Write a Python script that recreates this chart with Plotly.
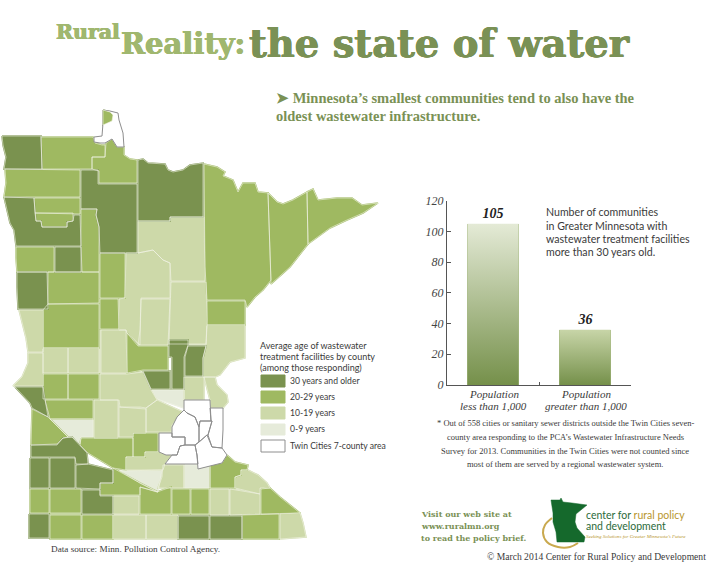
"""
Rural Reality: the state of water - county map plus bar chart.
"""
import plotly.graph_objects as go

# Bar chart data
POPULATION_GROUPS = ["Population less than 1,000", "Population greater than 1,000"]
COMMUNITY_COUNTS = [105, 36]
Y_TICKS = [0, 20, 40, 60, 80, 100, 120]

# Palette
DARK = "#7a924f"
MEDIUM = "#9fb961"
LIGHT = "#cdd9a9"
PALE = "#e6ebda"
BORDER = "#f1f4e6"
METRO_LINE = "#8e8e8e"
TITLE_DARK = "#7a9155"
TITLE_LIGHT = "#a0b76f"
INK = "#3a3a3a"

# County boundaries, in map units (same scale as the page overlay)
COUNTY_OUTLINES = {
    "Kittson": [(2, 136), (41, 136), (42, 169), (4, 169), (6, 157), (3, 145)],
    "Roseau": [(41, 137), (93, 137), (95, 143), (102, 145), (105, 145), (105, 157), (92, 157), (92, 169), (42, 169)],
    "LakeWoods": [(105, 157), (92, 157), (92, 169), (99, 171), (99, 183), (137, 183), (137, 160), (130, 159),
                  (124, 155), (124, 147), (117, 147), (112, 139), (106, 143)],
    "AnglePiece": [(103, 110), (110, 112), (113, 115), (112, 121), (103, 125)],
    "Koochiching": [(138, 160), (143, 159), (148, 163), (165, 164), (168, 170), (173, 172), (183, 170), (190, 165),
                    (203, 163), (203, 217), (170, 217), (170, 221), (138, 221)],
    "Beltrami": [(81, 170), (98, 170), (98, 184), (137, 184), (137, 253), (100, 253), (99, 227), (96, 215), (97, 209),
                 (81, 209)],
    "Marshall": [(5, 169), (80, 170), (80, 197), (4, 197), (6, 183)],
    "Pennington": [(34, 198), (80, 198), (80, 214), (35, 213)],
    "RedLake": [(35, 213), (73, 213), (73, 221), (67, 222), (67, 227), (42, 227), (41, 221), (36, 221)],
    "Polk": [(4, 197), (34, 198), (36, 221), (41, 221), (42, 227), (67, 227), (67, 222), (73, 221), (74, 215), (80, 215),
             (81, 246), (16, 246), (14, 230), (10, 223), (7, 210)],
    "Clearwater": [(81, 209), (97, 209), (96, 215), (99, 227), (99, 272), (82, 272), (81, 246)],
    "Norman": [(16, 247), (54, 247), (54, 272), (17, 272), (16, 258)],
    "Mahnomen": [(55, 247), (81, 247), (81, 272), (55, 272)],
    "Clay": [(17, 272), (47, 272), (48, 309), (18, 309), (17, 287)],
    "Becker": [(48, 272), (99, 272), (99, 303), (48, 304)],
    "Hubbard": [(100, 253), (125, 253), (125, 298), (100, 298)],
    "Cass": [(126, 253), (138, 253), (153, 250), (163, 260), (170, 263), (170, 298), (141, 298), (140, 345), (127, 333),
             (126, 330), (119, 330), (119, 299), (125, 298)],
    "Aitkin": [(141, 299), (170, 299), (168, 345), (138, 345), (140, 330)],
    "Itasca": [(138, 221), (170, 221), (170, 217), (204, 217), (205, 281), (171, 281), (170, 263), (163, 260),
               (153, 250), (138, 253)],
    "Carlton": [(171, 282), (206, 282), (207, 320), (206, 344), (169, 344), (170, 298)],
    "Duluth": [(207, 301), (245, 301), (245, 325), (207, 325)],
    "StLouis": [(204, 164), (217, 167), (225, 172), (223, 176), (233, 180), (238, 192), (243, 183), (255, 183),
                (258, 192), (268, 193), (271, 280), (263, 290), (255, 297), (247, 307), (245, 300), (207, 300),
                (205, 267)],
    "Lake": [(268, 193), (277, 202), (283, 204), (293, 200), (307, 192), (308, 244), (290, 267), (271, 284)],
    "Cook": [(307, 192), (313, 189), (318, 200), (337, 198), (352, 198), (362, 205), (378, 203), (363, 213), (347, 220),
             (330, 228), (308, 244)],
    "Pine": [(207, 325), (245, 325), (245, 358), (230, 362), (220, 375), (215, 377), (203, 377), (203, 358), (206, 346)],
    "Chisago": [(204, 377), (215, 377), (217, 385), (227, 395), (228, 402), (223, 408), (210, 408), (210, 400)],
    "Isanti": [(184, 377), (204, 377), (204, 400), (184, 400)],
    "MilleLacs": [(169, 340), (188, 340), (188, 345), (184, 357), (184, 389), (172, 389), (172, 357), (169, 357)],
    "Kanabec": [(188, 346), (206, 346), (203, 358), (203, 376), (185, 376), (185, 357)],
    "CrowWing": [(127, 333), (138, 346), (168, 346), (168, 370), (143, 370), (127, 373)],
    "Morrison": [(143, 371), (170, 371), (170, 389), (151, 389)],
    "Todd": [(101, 330), (126, 330), (127, 373), (101, 373)],
    "Wadena": [(100, 299), (118, 299), (119, 329), (100, 329)],
    "OtterTail": [(43, 310), (48, 304), (99, 304), (99, 348), (43, 348)],
    "Wilkin": [(19, 310), (43, 310), (43, 352), (28, 352), (26, 338)],
    "Grant": [(43, 348), (68, 348), (68, 373), (43, 373)],
    "Douglas": [(68, 348), (99, 348), (99, 373), (68, 373)],
    "Traverse": [(28, 353), (43, 353), (43, 386), (13, 386), (22, 377), (28, 363)],
    "BigStone": [(15, 387), (43, 387), (48, 417), (32, 408), (30, 403)],
    "Stevens": [(43, 374), (68, 374), (68, 399), (43, 399)],
    "Pope": [(68, 374), (99, 374), (99, 399), (68, 399)],
    "Stearns": [(100, 374), (127, 374), (143, 372), (151, 390), (157, 400), (146, 408), (140, 407), (120, 407),
                (119, 400), (100, 400)],
    "Swift": [(45, 400), (93, 400), (93, 419), (50, 419)],
    "Kandiyohi": [(94, 400), (118, 400), (118, 438), (94, 438)],
    "Chippewa": [(50, 419), (93, 419), (93, 437), (81, 437), (80, 444), (72, 437), (68, 437)],
    "Meeker": [(119, 407), (146, 409), (146, 433), (133, 433), (133, 437), (119, 437)],
    "Wright": [(146, 408), (157, 400), (183, 412), (172, 425), (171, 432), (146, 432)],
    "Sherburne": [(152, 390), (184, 390), (184, 408), (157, 399)],
    "McLeod": [(133, 433), (158, 433), (158, 452), (145, 452), (145, 457), (133, 457)],
    "Renville": [(81, 438), (133, 438), (133, 457), (126, 457), (126, 470), (113, 468), (88, 453), (80, 445)],
    "Sibley": [(126, 457), (145, 457), (145, 452), (158, 452), (165, 454), (172, 455), (165, 464), (163, 470),
               (126, 470)],
    "Nicollet": [(120, 471), (162, 470), (158, 492), (140, 483)],
    "LeSueur": [(163, 465), (184, 465), (184, 488), (158, 488), (162, 477)],
    "Rice": [(184, 465), (210, 465), (210, 488), (184, 488)],
    "Goodhue": [(227, 455), (235, 462), (248, 465), (247, 470), (241, 470), (241, 475), (235, 477), (235, 488),
                (210, 488), (210, 465), (222, 463)],
    "Wabasha": [(241, 470), (248, 470), (258, 475), (267, 483), (270, 488), (260, 488), (260, 494), (235, 488),
                (235, 477), (241, 475)],
    "LacQuiParle": [(32, 409), (48, 417), (68, 437), (63, 438), (57, 444), (31, 445)],
    "YellowMedicine": [(31, 445), (57, 445), (63, 438), (72, 437), (87, 453), (88, 464), (76, 464), (75, 457), (31, 457)],
    "Lincoln": [(30, 458), (49, 458), (49, 488), (30, 488)],
    "Lyon": [(50, 458), (75, 458), (75, 488), (50, 488)],
    "Redwood": [(76, 465), (88, 464), (113, 470), (113, 483), (100, 483), (100, 489), (76, 488)],
    "Brown": [(113, 468), (140, 483), (158, 492), (140, 487), (140, 495), (100, 495), (100, 483), (113, 483)],
    "Pipestone": [(30, 489), (49, 489), (49, 513), (30, 513)],
    "Murray": [(50, 489), (81, 489), (81, 513), (50, 513)],
    "Cottonwood": [(82, 490), (100, 490), (100, 496), (113, 496), (113, 514), (82, 514)],
    "Watonwan": [(113, 496), (139, 496), (139, 514), (113, 514)],
    "BlueEarth": [(140, 487), (157, 492), (171, 487), (171, 514), (140, 514)],
    "Waseca": [(172, 489), (190, 489), (190, 514), (172, 514)],
    "Steele": [(191, 489), (209, 489), (209, 514), (191, 514)],
    "Dodge": [(210, 489), (229, 489), (229, 515), (210, 515)],
    "Olmsted": [(230, 489), (260, 494), (260, 514), (230, 515)],
    "Winona": [(261, 489), (270, 488), (280, 497), (300, 513), (261, 514)],
    "Rock": [(29, 514), (49, 514), (49, 538), (29, 538)],
    "Nobles": [(50, 515), (81, 515), (81, 539), (50, 539)],
    "Jackson": [(82, 515), (113, 515), (113, 539), (82, 539)],
    "Martin": [(113, 515), (146, 515), (146, 539), (113, 539)],
    "Faribault": [(146, 515), (178, 515), (178, 539), (146, 539)],
    "Freeborn": [(178, 516), (209, 516), (209, 539), (178, 539)],
    "Mower": [(210, 516), (242, 516), (242, 539), (210, 539)],
    "Fillmore": [(242, 515), (279, 514), (279, 539), (242, 539)],
    "Houston": [(280, 514), (300, 513), (303, 523), (306, 537), (280, 539)],
}

METRO_OUTLINES = {
    "Anoka": [(184, 400), (210, 400), (211, 421), (200, 421), (199, 427), (195, 417), (187, 413), (184, 410)],
    "Washington": [(210, 408), (223, 408), (223, 430), (222, 448), (212, 447), (208, 435), (212, 421), (211, 421)],
    "Ramsey": [(200, 421), (212, 421), (208, 435), (207, 435), (199, 442), (199, 427)],
    "Hennepin": [(184, 410), (187, 413), (195, 417), (199, 427), (199, 442), (195, 445), (185, 445), (185, 437),
                 (172, 437), (172, 427), (177, 417)],
    "Carver": [(159, 433), (172, 433), (172, 437), (185, 437), (185, 445), (180, 446), (177, 455), (166, 455),
               (159, 452)],
    "Scott": [(180, 446), (185, 445), (195, 445), (197, 455), (198, 464), (165, 464), (172, 455), (177, 455)],
    "Dakota": [(207, 435), (212, 447), (222, 448), (227, 455), (222, 463), (213, 465), (198, 469), (197, 455),
               (195, 445), (199, 442)],
    "Angle": [(103, 110), (110, 111), (118, 113), (119, 120), (123, 133), (124, 147), (117, 147), (112, 139),
              (105, 143), (100, 143), (94, 142), (94, 137), (102, 136), (103, 123)],
}

# Age class of each county
COUNTIES_30_PLUS = ["Kittson", "Koochiching", "Beltrami", "Polk", "Mahnomen", "Clay", "Morrison", "MilleLacs",
                    "Kanabec", "BigStone", "YellowMedicine", "Lincoln", "Lyon", "Redwood", "Cottonwood", "Rock",
                    "Freeborn", "Mower"]
COUNTIES_20_29 = ["Roseau", "LakeWoods", "AnglePiece", "Marshall", "Pennington", "RedLake", "Clearwater", "Norman",
                  "Becker", "Hubbard", "Duluth", "StLouis", "Lake", "Cook", "CrowWing", "Wadena", "OtterTail",
                  "Stevens", "Pope", "Swift", "McLeod", "Renville", "Goodhue", "LacQuiParle", "Brown", "Pipestone",
                  "Murray", "BlueEarth", "Waseca", "Steele", "Winona", "Nobles", "Jackson", "Fillmore"]
COUNTIES_10_19 = ["Cass", "Aitkin", "Itasca", "Carlton", "Pine", "Chisago", "Isanti", "Todd", "Wilkin", "Grant",
                  "Douglas", "Traverse", "Stearns", "Kandiyohi", "Meeker", "Wright", "Sibley", "LeSueur", "Wabasha",
                  "Watonwan", "Dodge", "Olmsted", "Martin", "Faribault", "Houston"]
COUNTIES_0_9 = ["Chippewa", "Sherburne", "Nicollet", "Rice"]

# Painted palest first so the darker counties keep their full shape
AGE_CLASSES = [
    ("0-9 years", COUNTIES_0_9, PALE),
    ("10-19 years", COUNTIES_10_19, LIGHT),
    ("20-29 years", COUNTIES_20_29, MEDIUM),
    ("30 years and older", COUNTIES_30_PLUS, DARK),
]

LOGO_STATE = [(551, 500), (560, 500), (561, 498), (563, 502), (572, 503), (587, 505), (576, 514), (575, 522), (577, 528),
              (585, 537), (584, 542), (557, 542), (556, 532), (553, 522), (553, 513)]
LOGO_ARC = [(552, 518), (545, 525), (543, 533), (547, 542), (558, 547), (570, 547), (578, 543)]


def outline_xy(shapes):
    """Join polygons into one x/y pair, split by None."""
    xs, ys = [], []
    for points in shapes:
        xs += [p[0] for p in points] + [points[0][0], None]
        ys += [p[1] for p in points] + [points[0][1], None]
    return xs, ys


def page_text(x, y, text, size, family, color=INK, anchor="left", bold=False, italic=False, shadow=None):
    fig.add_annotation(
        x=x, y=y, xref="x2", yref="y2", text=text, showarrow=False, xanchor=anchor, yanchor="middle",
        font=dict(size=size, family=family, color=color, weight="bold" if bold else "normal",
                  style="italic" if italic else "normal", shadow=shadow or "none"),
        borderpad=0,
    )


fig = go.Figure()

# Bars, with the gradient filled on top of them
bar_colors = ["#a8bb84", "#a3b67e"]
fig.add_trace(go.Bar(
    x=[0, 1], y=COMMUNITY_COUNTS, width=0.555, marker=dict(color=bar_colors, line_width=0),
    text=COMMUNITY_COUNTS, textposition="outside", cliponaxis=False,
    textfont=dict(size=14, family="Liberation Serif", color="#222222", weight="bold", style="italic"),
    hovertext=POPULATION_GROUPS, hoverinfo="text+y",
))
gradient_tops = ["#e4ead6", "#c8d5a8"]
for i, count in enumerate(COMMUNITY_COUNTS):
    half = 0.555 / 2
    fig.add_trace(go.Scatter(
        x=[i - half, i - half, i + half, i + half, i - half], y=[0, count, count, 0, 0],
        mode="lines", line_width=0, fill="toself", hoverinfo="skip",
        fillgradient=dict(type="vertical", colorscale=[[0, "#75904a"], [1, gradient_tops[i]]]),
    ))

# Map and all page furniture share a pixel-sized overlay axis
for label, counties, color in AGE_CLASSES:
    xs, ys = outline_xy([COUNTY_OUTLINES[c] for c in counties])
    fig.add_trace(go.Scatter(
        x=xs, y=ys, xaxis="x2", yaxis="y2", mode="lines", fill="toself", fillcolor=color,
        line=dict(color=color, width=1.5), name=label, hoverinfo="name",
    ))
# Thin county lines go on top of all the fills
xs, ys = outline_xy(list(COUNTY_OUTLINES.values()))
fig.add_trace(go.Scatter(
    x=xs, y=ys, xaxis="x2", yaxis="y2", mode="lines", line=dict(color=BORDER, width=0.6), hoverinfo="skip",
))
xs, ys = outline_xy(list(METRO_OUTLINES.values()))
fig.add_trace(go.Scatter(
    x=xs, y=ys, xaxis="x2", yaxis="y2", mode="lines", fill="toself", fillcolor="#ffffff",
    line=dict(color=METRO_LINE, width=1), name="Twin Cities 7-county area", hoverinfo="name",
))
# Angle piece sits inside the white outline
xs, ys = outline_xy([COUNTY_OUTLINES["AnglePiece"]])
fig.add_trace(go.Scatter(
    x=xs, y=ys, xaxis="x2", yaxis="y2", mode="lines", fill="toself", fillcolor=MEDIUM,
    line=dict(color=BORDER, width=0.6), hoverinfo="skip",
))

# Logo
xs, ys = outline_xy([LOGO_STATE])
fig.add_trace(go.Scatter(
    x=xs, y=ys, xaxis="x2", yaxis="y2", mode="lines", fill="toself", fillcolor="#15692c",
    line=dict(color="#15692c", width=0.5), hoverinfo="skip",
))
fig.add_trace(go.Scatter(
    x=[p[0] for p in LOGO_ARC], y=[p[1] for p in LOGO_ARC], xaxis="x2", yaxis="y2", mode="lines",
    line=dict(color="#c9a94f", width=2, shape="spline"), hoverinfo="skip",
))

# Legend swatches
for (y0, y1), color, line in [((375, 387), DARK, DARK), ((391, 403), MEDIUM, MEDIUM), ((407, 419), LIGHT, LIGHT),
                              ((424, 435), PALE, PALE), ((440, 452), "#ffffff", METRO_LINE)]:
    fig.add_shape(type="rect", x0=261, x1=285, y0=y0, y1=y1, xref="x2", yref="y2",
                  fillcolor=color, line=dict(color=line, width=1))

fig.update_layout(
    width=716, height=564, margin=dict(l=0, r=0, t=0, b=0, autoexpand=False), showlegend=False, bargap=0,
    paper_bgcolor="white", plot_bgcolor="rgba(0,0,0,0)",
    xaxis=dict(domain=[447 / 716, 631 / 716], range=[-0.5, 1.5], showgrid=False, zeroline=False, showline=True,
               linecolor="#555555", linewidth=1, tickmode="array", tickvals=[0.5, 1.5], ticks="inside", ticklen=3,
               tickcolor="#555555", showticklabels=False),
    yaxis=dict(domain=[(564 - 385) / 564, (564 - 200.7) / 564], range=[0, 120], showgrid=False, zeroline=False,
               showline=True, linecolor="#555555", linewidth=1, tickmode="array", tickvals=Y_TICKS, ticks="inside",
               ticklen=4, tickcolor="#555555",
               tickfont=dict(size=12, family="Liberation Serif", color="#444444", style="italic"),
               ticklabelstandoff=0),
    xaxis2=dict(domain=[0, 1], range=[0, 716], visible=False, anchor="y2"),
    yaxis2=dict(domain=[0, 1], range=[564, 0], visible=False, anchor="x2"),
)

SANS = "Lato"
SERIF = "Liberation Serif"
SLAB = "DejaVu Serif"


def heavy(color):
    return f"0.5px 0 0 {color}, -0.5px 0 0 {color}, 0 0.4px 0 {color}"


# Title
page_text(55, 32, "Rural", 20.5, SLAB, TITLE_LIGHT, bold=True, shadow=heavy(TITLE_LIGHT))
page_text(120, 44, "Reality:", 29, SLAB, TITLE_LIGHT, bold=True, shadow=heavy(TITLE_LIGHT))
page_text(248, 43, "the state of water", 38.5, SLAB, TITLE_DARK, bold=True, shadow=heavy(TITLE_DARK))

# Subtitle
page_text(275, 98, "➤ Minnesota’s smallest communities tend to also have the", 14.5, SERIF, TITLE_DARK, bold=True)
page_text(275, 116, "oldest wastewater infrastructure.", 14.5, SERIF, TITLE_DARK, bold=True)

# Legend text
for y, line in [(345, "Average age of wastewater"), (356, "treatment facilities by county"),
                (367, "(among those responding)")]:
    page_text(259, y, line, 9, SANS)
for y, line in [(381, "30 years and older"), (397, "20-29 years"), (413, "10-19 years"), (429, "0-9 years"),
                (446, "Twin Cities 7-county area")]:
    page_text(289, y, line, 8.6, SANS)

# Bar chart captions
for y, line in [(212, "Number of communities"), (226, "in Greater Minnesota with"),
                (239, "wastewater treatment facilities"), (252, "more than 30 years old.")]:
    page_text(545, y, line, 10.6, SANS)
for x, first, second in [(493.5, "Population", "less than 1,000"), (585.5, "Population", "greater than 1,000")]:
    page_text(x, 394, first, 11, SERIF, anchor="center", italic=True)
    page_text(x, 406, second, 11, SERIF, anchor="center", italic=True)

# Footnote
for y, line in [(423, "* Out of 558 cities or sanitary sewer districts outside the Twin Cities seven-"),
                (437, "county area responding to the PCA’s Wastewater Infrastructure Needs"),
                (451, "Survey for 2013. Communities in the Twin Cities were not counted since"),
                (464, "most of them are served by a regional wastewater system.")]:
    page_text(565, y, line, 8.5, SERIF, anchor="center")

page_text(50, 549, "Data source: Minn. Pollution Control Agency.", 9.2, SERIF)

# Web site note and logo text
for y, line in [(514, "Visit our web site at"), (526, "www.ruralmn.org"), (538, "to read the policy brief.")]:
    page_text(420, y, line, 8, SLAB, TITLE_DARK, bold=True)
page_text(585, 515, "center for <span style='color:#b8962e'>rural policy</span>", 10.5, SANS, "#2c6b3a")
page_text(585, 526, "and development", 10.5, SANS, "#2c6b3a")
page_text(585, 536, "Seeking Solutions for Greater Minnesota’s Future", 5, SERIF, "#b8962e", italic=True)
page_text(707, 556, "© March 2014 Center for Rural Policy and Development", 9.6, SERIF, anchor="right")

fig.write_html("out.html", config={"displayModeBar": False}, post_script="document.body.style.margin='0';")
